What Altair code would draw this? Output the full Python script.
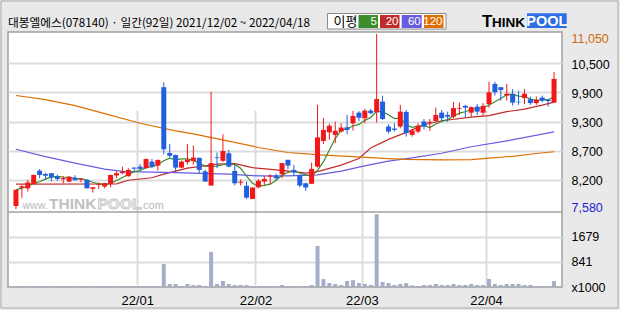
import altair as alt
import pandas as pd

# ---------------- data ----------------
TITLE = "대봉엘에스(078140) · 일간(92일) 2021/12/02 ~ 2022/04/18"

opens = [7640, 8000, 7990, 8080, 8340, 8275, 8290, 8220, 8170, 8125,
         8200, 8160, 8160, 7980, 8060, 8025, 8080, 8245, 8290, 8230,
         8400, 8420, 8390, 8520, 8440, 9995, 8690, 8650, 8400, 8510,
         8530, 8595, 8325, 8045, 8605, 8535, 8685, 8335, 8100, 8040,
         7780, 8010, 8125, 8220, 8240, 8270, 8555, 8355, 8255, 8090,
         8080, 8420, 8930, 9100, 9050, 9115, 9200, 9280, 9490, 9380,
         9530, 9500, 9710, 9215, 9175, 9215, 9505, 9050, 9115, 9315,
         9290, 9325, 9490, 9445, 9410, 9570, 9625, 9490, 9610, 9490,
         9660, 10060, 9995, 9830, 9855, 9705, 9780, 9755, 9680, 9790,
         9745, 9690]
highs = [7960, 8060, 8157, 8260, 8370, 8300, 8290, 8260, 8230, 8230,
         8250, 8190, 8170, 8020, 8110, 8100, 8260, 8330, 8420, 8390,
         8410, 8470, 8580, 8570, 8560, 10094, 8870, 8660, 8540, 8870,
         8840, 8600, 8360, 9900, 8700, 9060, 8750, 8455, 8170, 8125,
         8010, 8170, 8235, 8270, 8280, 8495, 8560, 8455, 8260, 8100,
         8500, 9645, 9390, 9270, 9315, 9280, 9445, 9525, 9520, 9565,
         9565, 11050, 9825, 9260, 9280, 9645, 9545, 9170, 9280, 9365,
         9365, 9590, 9545, 9510, 9700, 9690, 9645, 9615, 9665, 9680,
         10105, 10100, 10000, 10060, 9955, 9925, 9955, 9810, 9810, 9830,
         9760, 10295]
lows = [7580, 7800, 7925, 8080, 8190, 8160, 8130, 8140, 8090, 8110,
        8150, 8110, 7990, 7905, 7980, 7990, 8010, 8190, 8270, 8220,
        8320, 8350, 8380, 8390, 8340, 8665, 8600, 8330, 8390, 8460,
        8460, 8290, 8120, 8040, 8390, 8510, 8405, 8050, 8045, 7780,
        7780, 7990, 8045, 8070, 8150, 8190, 8370, 8240, 8010, 7940,
        8075, 8400, 8870, 8950, 8885, 9100, 9065, 9135, 9325, 9280,
        9460, 9295, 9345, 9080, 9115, 9180, 9015, 9015, 9080, 9160,
        9130, 9310, 9310, 9310, 9380, 9445, 9400, 9410, 9445, 9430,
        9590, 9830, 9730, 9730, 9630, 9645, 9660, 9645, 9645, 9695,
        9610, 9690]
closes = [7960, 8030, 8105, 8256, 8255, 8240, 8210, 8175, 8195, 8220,
          8150, 8180, 7990, 8010, 8075, 8090, 8256, 8290, 8320, 8355,
          8380, 8375, 8570, 8420, 8554, 8765, 8635, 8400, 8520, 8560,
          8600, 8355, 8125, 8490, 8590, 8730, 8420, 8090, 8120, 7805,
          8005, 8140, 8175, 8240, 8190, 8490, 8440, 8305, 8045, 8005,
          8375, 9000, 9150, 9230, 9130, 9195, 9150, 9425, 9390, 9530,
          9480, 9760, 9365, 9115, 9150, 9510, 9085, 9135, 9230, 9215,
          9310, 9445, 9380, 9410, 9580, 9585, 9590, 9600, 9510, 9625,
          9895, 9895, 9940, 9865, 9690, 9695, 9865, 9680, 9745, 9730,
          9720, 10160]
volumes = [30, 30, 30, 30, 30, 30, 30, 30, 30, 30,
           30, 30, 30, 30, 30, 30, 30, 30, 30, 30,
           30, 30, 30, 30, 30, 770, 100, 100, 33, 100,
           67, 67, 33, 1180, 100, 200, 100, 67, 67, 67,
           25, 30, 30, 30, 30, 67, 33, 33, 33, 33,
           67, 1374, 265, 134, 100, 67, 200, 230, 134, 100,
           67, 2440, 168, 130, 67, 100, 130, 55, 33, 67,
           67, 100, 67, 67, 100, 67, 67, 100, 67, 67,
           268, 100, 67, 100, 100, 100, 67, 67, 33, 33,
           33, 200]

ma20_idx = [0, 17, 19, 23, 25, 29, 31, 34, 37, 40, 44, 47, 49, 51, 55, 58, 60, 63, 66, 69, 72, 77, 80, 83, 86, 89, 91]
ma20_val = [8075, 8080, 8150, 8200, 8270, 8390, 8420, 8470, 8480, 8400, 8355, 8320, 8290, 8320, 8450, 8580, 8790, 8960, 9100, 9250, 9330, 9400, 9430, 9510, 9560, 9640, 9700]
ma60_idx = [0, 5, 10, 15, 18, 21, 27, 31, 36, 41, 46, 51, 55, 58, 60, 63, 67, 72, 77, 83, 91]
ma60_val = [8765, 8620, 8490, 8370, 8325, 8315, 8300, 8285, 8270, 8235, 8235, 8255, 8330, 8410, 8460, 8530, 8595, 8686, 8815, 8930, 9110]
ma120_idx = [0, 5, 10, 15, 21, 27, 30, 35, 41, 46, 52, 57, 63, 66, 72, 77, 80, 84, 88, 91]
ma120_val = [9830, 9750, 9630, 9470, 9280, 9130, 9070, 8950, 8800, 8700, 8650, 8620, 8580, 8565, 8555, 8558, 8590, 8625, 8680, 8715]

month_ticks = [20.5, 40.5, 58.5, 79.5]
month_labels = ["22/01", "22/02", "22/03", "22/04"]
price_min, price_max = 7580, 11050
price_labels = ["7,580", "8,200", "8,700", "9,300", "9,900", "10,500", "11,050"]
vol_ticks = [0, 841, 1679]
vol_labels = ["x1000", "841", "1679"]
vol_top = 2514

legend_names = ["5", "20", "60", "120"]

# ---------------- styles ----------------
RED = "#f01818"
BLUE = "#1f5fe0"
C5, C20, C60, C120 = "#3b8c2a", "#c12b2b", "#6a5ce0", "#dd7000"
VOLC = "#a4aec6"
GRID = "#dcdcdc"
NUMFONT = "Liberation Sans"
KFONT = "Noto Sans CJK KR"

df = pd.DataFrame({"i": list(range(len(opens))), "open": opens, "high": highs,
                   "low": lows, "close": closes, "vol": volumes})

ma_rows = []
for name, idx, val in [("MA20", ma20_idx, ma20_val), ("MA60", ma60_idx, ma60_val),
                       ("MA120", ma120_idx, ma120_val)]:
    for a, b in zip(idx, val):
        ma_rows.append({"i": a, "value": b, "ma": name})
ma_df = pd.DataFrame(ma_rows)

price_ticks = [price_min + k * (price_max - price_min) / 6 for k in range(7)]


def label_expr(ticks, labels):
    expr = "''"
    for t, l in reversed(list(zip(ticks, labels))):
        expr = f"abs(datum.value - {t}) < 1 ? '{l}' : ({expr})"
    return expr


x_enc = alt.X("i:Q",
              scale=alt.Scale(domain=[-0.5, 91.5], nice=False, zero=False),
              axis=alt.Axis(values=month_ticks, labelExpr=label_expr(month_ticks, month_labels),
                            grid=True, gridColor=GRID, gridWidth=2, domain=False, ticks=False,
                            labelPadding=7, labelFont=NUMFONT, labelFontSize=13, labelColor="#000",
                            labelFlush=False, labelOverlap=False, title=None, orient="bottom"))

price_scale = alt.Scale(domain=[price_min, price_max], range=[177, 2], nice=False, zero=False)
price_axis = alt.Axis(orient="right", values=price_ticks,
                      labelExpr=label_expr(price_ticks, price_labels),
                      grid=True, gridColor=GRID, gridWidth=2,
                      gridOpacity={"condition": {"test": "datum.value < 7600 || datum.value > 11000", "value": 0}, "value": 1},
                      domain=False, ticks=False, labelPadding=9, labelAlign="left",
                      labelBaseline="middle", labelFont=NUMFONT, labelFontSize=12.5,
                      labelColor={"condition": [{"test": "datum.value > 11000", "value": "#d06a10"},
                                                {"test": "datum.value < 7600", "value": "#1c1cd0"}],
                                  "value": "#000000"},
                      labelOffset={"condition": [{"test": "datum.value > 11000", "value": 4},
                                                 {"test": "datum.value < 7600", "value": -2}],
                                   "value": 1},
                      labelOverlap=False, title=None)

vol_scale = alt.Scale(domain=[0, vol_top], range=[255, 180], nice=False, zero=True)
vol_axis = alt.Axis(orient="right", values=vol_ticks, labelExpr=label_expr(vol_ticks, vol_labels),
                    grid=True, gridColor=GRID, gridWidth=2,
                    gridOpacity={"condition": {"test": "datum.value < 1", "value": 0}, "value": 1},
                    domain=False, ticks=False, labelPadding=9, labelAlign="left",
                    labelBaseline="middle", labelFont=NUMFONT, labelFontSize=12.5,
                    labelColor="#000", labelOverlap=False, title=None)

base = alt.Chart(df)
color_cond = alt.condition("datum.close >= datum.open", alt.value(RED), alt.value(BLUE))

ma_lines = alt.Chart(ma_df).mark_line(strokeWidth=1.2).encode(
    x=x_enc,
    y=alt.Y("value:Q", scale=price_scale, axis=price_axis),
    color=alt.Color("ma:N", scale=alt.Scale(domain=["MA20", "MA60", "MA120"], range=[C20, C60, C120]),
                    legend=None),
)
ma5 = base.transform_window(
    ma5="mean(close)", frame=[-4, 0], sort=[alt.SortField("i")]
).mark_line(color=C5, strokeWidth=1.2).encode(
    x=x_enc, y=alt.Y("ma5:Q", scale=price_scale, axis=price_axis))

wicks = base.mark_rule(strokeWidth=1).encode(
    x=x_enc, y=alt.Y("low:Q", scale=price_scale, axis=price_axis), y2="high:Q", color=color_cond)
bodies = base.mark_bar(size=5).encode(
    x=x_enc, y=alt.Y("open:Q", scale=price_scale, axis=price_axis), y2="close:Q", color=color_cond)

price_layer = alt.layer(ma_lines, ma5, wicks, bodies)

vol_bars = base.mark_bar(size=4, color=VOLC).encode(
    x=x_enc, y=alt.Y("vol:Q", scale=vol_scale, axis=vol_axis))

# ---------------- decorations ----------------
one = pd.DataFrame({"d": [0]})
deco = alt.Chart(one)


def txt(s, x, y, size=13, color="#000", font=NUMFONT, weight="normal", align="left",
        baseline="middle", stroke=None):
    kw = dict(fontSize=size, color=color, font=font, fontWeight=weight, align=align,
              baseline=baseline)
    if stroke:
        kw["stroke"] = stroke
        kw["strokeWidth"] = 0.8
    return deco.mark_text(**kw).encode(x=alt.value(x), y=alt.value(y), text=alt.value(s))


def box(x0, x1, y0, y1, fill, stroke=None, sw=1):
    kw = dict(color=fill)
    if stroke:
        kw["stroke"] = stroke
        kw["strokeWidth"] = sw
    return deco.mark_rect(**kw).encode(x=alt.value(x0), x2=alt.value(x1),
                                       y=alt.value(y0), y2=alt.value(y1))


watermark = [
    txt("www.", 14.5, 176.5, size=10.5, color="#b8b8b8", baseline="alphabetic"),
    txt("THINK", 41, 177, size=15.5, color="#c0c0c0", weight="bold", baseline="alphabetic"),
    txt("POOL", 89.5, 177, size=15.5, color="#ececec", weight="bold", baseline="alphabetic",
        stroke="#c4c4c4"),
    txt(".com", 132, 176.5, size=11, color="#b8b8b8", baseline="alphabetic"),
]

separator = deco.mark_rule(color="#a0a0a0", strokeWidth=1.5).encode(
    x=alt.value(0), x2=alt.value(554), y=alt.value(180))

front = [
    txt(TITLE, 0, -9.5, size=11.7, font=KFONT),
    box(319.5, 438, -18.5, -3, "#ffffff", stroke="#8a8a8a"),
    txt("이평", 325.5, -10.5, size=13, font=KFONT),
]
legend_cols = [C5, C20, C60, C120]
legend_x = [(350.5, 370), (372, 391.5), (393.7, 413.7), (416, 435.5)]
for (a, b), c, n in zip(legend_x, legend_cols, legend_names):
    front.append(box(a, b, -17, -4, c))
    front.append(txt(n, b - 1, -10.5, size=11.5, color="#ffffff", align="right"))

front += [
    txt("T", 474, -4.7, size=17, weight="bold", baseline="alphabetic"),
    txt("HINK", 484, -4.7, size=13.5, weight="bold", baseline="alphabetic"),
    box(519, 558.7, -18.7, -4, "#2d6ee6"),
    txt("POOL", 538.8, -5.8, size=14.5, color="#ffffff", weight="bold", align="center",
        baseline="alphabetic"),
    deco.mark_rect(fillOpacity=0, stroke="#a8a8a8", strokeWidth=1).encode(
        x=alt.value(-7), x2=alt.value(610), y=alt.value(-31), y2=alt.value(276)),
]

chart = alt.layer(
    *watermark, price_layer, vol_bars, separator, *front
).resolve_scale(y="independent").properties(
    width=554, height=255,
    padding={"left": 8, "top": 32, "right": 58, "bottom": 23},
    autosize=alt.AutoSizeParams(type="none"),
).configure(background="#e9e9e9").configure_view(fill="white", stroke="#a0a0a0", strokeWidth=1.5)

chart.save("out.html", embed_options={"renderer": "svg", "actions": False})
